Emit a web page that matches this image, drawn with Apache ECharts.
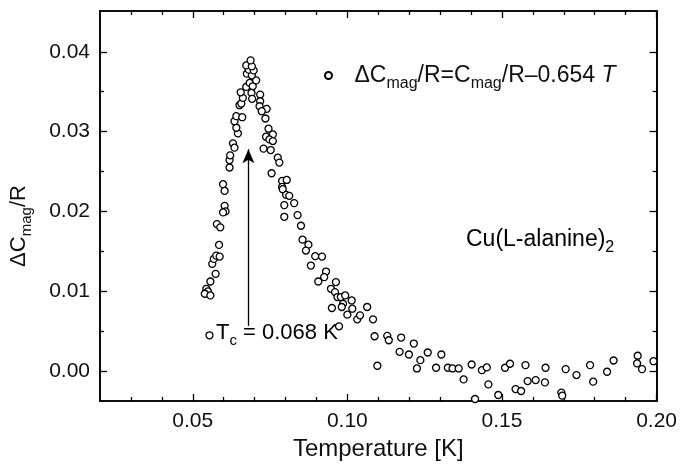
<!DOCTYPE html>
<html>
<head>
<meta charset="utf-8">
<script src="https://cdn.jsdelivr.net/npm/echarts@6/dist/echarts.min.js"></script>
<style>
  html, body { margin: 0; padding: 0; background: #fff; }
  #chart { width: 680px; height: 466px; }
</style>
</head>
<body>
<div id="chart"></div>
<script>
// temperature [K] and dC_mag/R
var tempK = [
  0.0544, 0.0549, 0.0539, 0.0557, 0.0557, 0.0574, 0.0563, 0.0568, 0.0576, 0.0587,
  0.0585, 0.0578, 0.0589, 0.0603, 0.0606, 0.0598, 0.0598, 0.0603, 0.0619, 0.0619,
  0.0621, 0.0630, 0.0635, 0.0646, 0.0641, 0.0635, 0.0641, 0.0660, 0.0651, 0.0657,
  0.0662, 0.0655, 0.0673, 0.0684, 0.0694, 0.0690, 0.0692, 0.0705, 0.0675, 0.0691,
  0.0681, 0.0697, 0.0673, 0.0691, 0.0687,
  0.0718, 0.0718, 0.0716, 0.0739, 0.0723, 0.0735, 0.0745, 0.0759, 0.0737, 0.0748,
  0.0759, 0.0729, 0.0752, 0.0775, 0.0780, 0.0755, 0.0789, 0.0804, 0.0789, 0.0791,
  0.0802, 0.0812, 0.0796, 0.0828, 0.0796, 0.0839, 0.0850, 0.0855, 0.0874, 0.0866,
  0.0896, 0.0918, 0.0882, 0.0931, 0.0925, 0.0906, 0.0963, 0.0947, 0.0960, 0.0968,
  0.0950, 0.0979, 0.0993, 0.0986, 0.0982, 0.1014, 0.1016, 0.1000, 0.1032, 0.1041,
  0.1064, 0.1083, 0.0973, 0.1088, 0.1129, 0.1134, 0.1174, 0.1215, 0.1169, 0.1199,
  0.1236, 0.1260, 0.1304, 0.1097, 0.1225, 0.1287, 0.1325, 0.1340, 0.1360, 0.1402,
  0.1435, 0.1451, 0.1376, 0.1456, 0.1413, 0.1488, 0.1510, 0.1526, 0.1544, 0.1562,
  0.1576, 0.1583, 0.1609, 0.1639, 0.1641, 0.1692, 0.1695, 0.1706, 0.1741, 0.1785,
  0.1795, 0.1840, 0.1861, 0.1939, 0.1937, 0.1953, 0.1990, 0.0554
];
var dCmag = [
  0.01034, 0.01001, 0.00972, 0.00951, 0.01125, 0.01221, 0.01346, 0.01408, 0.01449, 0.01437,
  0.01583, 0.01844, 0.01803, 0.02072, 0.02002, 0.01990, 0.02343, 0.02259, 0.02551, 0.02645,
  0.02704, 0.02854, 0.02800, 0.02978, 0.03049, 0.03131, 0.03194, 0.03181, 0.03331, 0.03352,
  0.03423, 0.03493, 0.03560, 0.03610, 0.03568, 0.03485, 0.03411, 0.03642, 0.03726, 0.03705,
  0.03776, 0.03767, 0.03829, 0.03817, 0.03892,
  0.03464, 0.03381, 0.03318, 0.03286, 0.03256, 0.03165, 0.03037, 0.02966, 0.02937, 0.02903,
  0.02882, 0.02788, 0.02770, 0.02675, 0.02613, 0.02480, 0.02384, 0.02396, 0.02309, 0.02280,
  0.02209, 0.02197, 0.02081, 0.02106, 0.01935, 0.01956, 0.01823, 0.01649, 0.01586, 0.01512,
  0.01442, 0.01437, 0.01325, 0.01250, 0.01180, 0.01125, 0.01118, 0.01034, 0.00993, 0.00931,
  0.00794, 0.00931, 0.00951, 0.00847, 0.00806, 0.00888, 0.00785, 0.00710, 0.00652, 0.00702,
  0.00806, 0.00652, 0.00564, 0.00440, 0.00445, 0.00390, 0.00424, 0.00349, 0.00245, 0.00212,
  0.00141, 0.00237, 0.00212, 0.00071, 0.00037, 0.00046, 0.00046, 0.00037, 0.00037, 0.00087,
  0.00016, 0.00050, -0.00100, -0.00162, -0.00345, -0.00295, 0.00046, 0.00096, -0.00221, -0.00245,
  0.00079, -0.00121, -0.00108, -0.00137, 0.00046, -0.00265, -0.00303, 0.00029, -0.00046, 0.00079,
  -0.00128, -0.00004, 0.00137, 0.00196, 0.00100, 0.00029, 0.00128, 0.00452
];
var xMajor = [0.05, 0.10, 0.15, 0.20];
var xMinor = [0.03, 0.04, 0.06, 0.07, 0.08, 0.09, 0.11, 0.12, 0.13, 0.14, 0.16, 0.17, 0.18, 0.19];
var yMajor = [0.00, 0.01, 0.02, 0.03, 0.04];
var yMinor = [0.005, 0.015, 0.025, 0.035];
var tcValue = 0.068;

var points = tempK.map(function (t, i) { return [t, dCmag[i]]; });

var font = 'Liberation Sans';
function richSet(size, subSize) {
  return {
    n: { fontFamily: font, fontSize: size, color: '#111' },
    s: { fontFamily: font, fontSize: subSize, color: '#111', padding: [subSize, 0, 0, 0] },
    i: { fontFamily: font, fontSize: size, color: '#111', fontStyle: 'italic' }
  };
}
var richTxt = richSet(22, 15);
var richBig = richSet(23, 16);

function xAx(pos, ticks, len, showLabel, extra) {
  var a = {
    type: 'value', position: pos, min: 0.02, max: 0.20,
    axisLine: { show: true, onZero: false, lineStyle: { color: '#000', width: 1.6 } },
    axisTick: { show: true, inside: true, length: len, customValues: ticks, lineStyle: { color: '#000', width: 1.3 } },
    axisLabel: { show: showLabel, customValues: ticks, margin: 10, fontFamily: font, fontSize: 21, color: '#111',
      formatter: function (v) { return v.toFixed(2); } },
    splitLine: { show: false }
  };
  return Object.assign(a, extra || {});
}
function yAx(pos, ticks, len, showLabel, extra) {
  var a = {
    type: 'value', position: pos, min: -0.0037, max: 0.0451,
    axisLine: { show: true, onZero: false, lineStyle: { color: '#000', width: 1.6 } },
    axisTick: { show: true, inside: true, length: len, customValues: ticks, lineStyle: { color: '#000', width: 1.3 } },
    axisLabel: { show: showLabel, customValues: ticks, margin: 10, fontFamily: font, fontSize: 21, color: '#111',
      formatter: function (v) { return v.toFixed(2); } },
    splitLine: { show: false }
  };
  return Object.assign(a, extra || {});
}

var chart = echarts.init(document.getElementById('chart'));
var option = {
  backgroundColor: '#fff',
  animation: false,
  grid: { left: 100, right: 21, top: 11, bottom: 63 },
  legend: {
    left: 319, top: 59, itemWidth: 42, itemHeight: 7,
    data: ['dC'],
    formatter: function () {
      return '{n|\u0394C}{s|mag}{n|/R=C}{s|mag}{n|/R\u20130.654 }{i|T}';
    },
    textStyle: { rich: richBig }
  },
  xAxis: [
    xAx('bottom', xMajor, 7, true, {
      name: 'Temperature [K]', nameLocation: 'middle', nameGap: 36,
      nameTextStyle: { fontFamily: font, fontSize: 24, color: '#111' }
    }),
    xAx('bottom', xMinor, 4, false),
    xAx('top', xMajor, 7, false),
    xAx('top', xMinor, 4, false)
  ],
  yAxis: [
    yAx('left', yMajor, 7, true, {
      name: '{n|\u0394C}{s|mag}{n|/R}', nameLocation: 'middle', nameGap: 66, nameRotate: 90,
      nameTextStyle: { rich: richTxt, padding: [0, 40, 0, 0] }
    }),
    yAx('left', yMinor, 4, false),
    yAx('right', yMajor, 7, false),
    yAx('right', yMinor, 4, false)
  ],
  series: [{
    name: 'dC',
    type: 'scatter',
    data: points,
    symbol: 'circle',
    symbolSize: 7,
    itemStyle: { color: '#fff', borderColor: '#000', borderWidth: 1.3, opacity: 1 },
    markLine: {
      silent: true,
      symbol: ['none', 'arrow'],
      symbolSize: [9, 14],
      label: { show: false },
      lineStyle: { color: '#000', width: 1.3, type: 'solid' },
      data: [[{ coord: [tcValue, 0.0057] }, { coord: [tcValue, 0.0278] }]]
    }
  }],
  graphic: [
    {
      type: 'text', left: 216, top: 322,
      style: {
        text: '{n|T}{s|c}{n| = 0.068 K}',
        rich: richTxt
      }
    },
    {
      type: 'text', left: 466, top: 228,
      style: {
        text: '{n|Cu(L-alanine)}{s|2}',
        rich: richBig
      }
    }
  ]
};
chart.setOption(option);
</script>
</body>
</html>
